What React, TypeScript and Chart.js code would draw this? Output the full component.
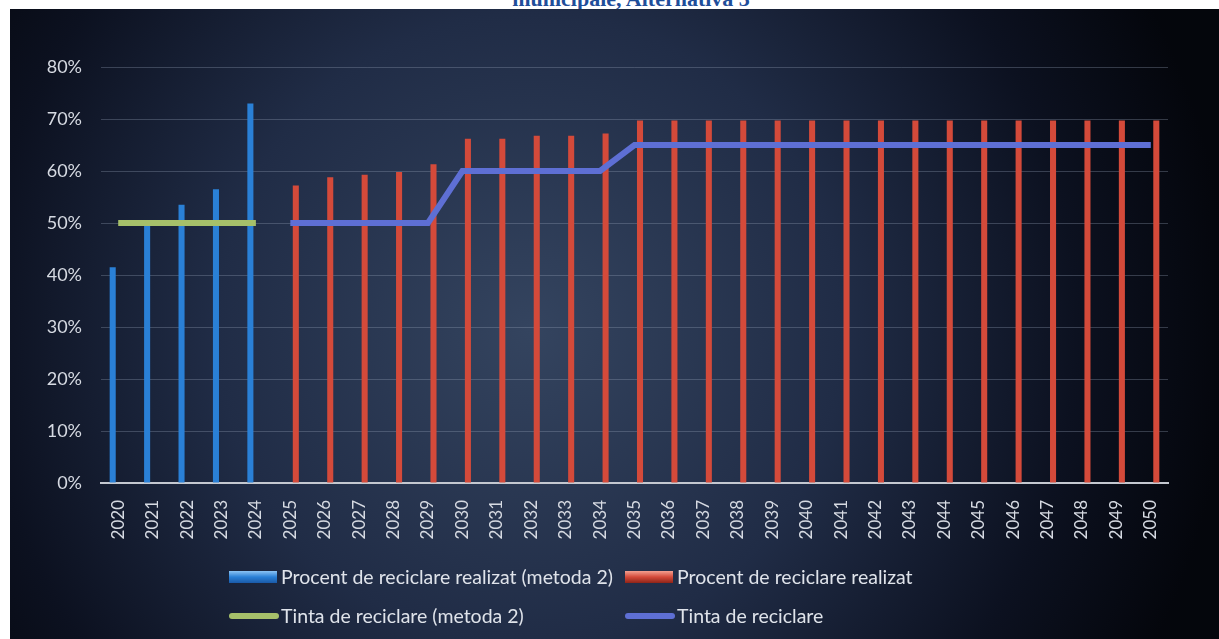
import React, { useEffect, useRef } from 'react';
import { Chart, registerables } from 'chart.js';

Chart.register(...registerables);

const years = [
  '2020', '2021', '2022', '2023', '2024', '2025', '2026', '2027', '2028', '2029',
  '2030', '2031', '2032', '2033', '2034', '2035', '2036', '2037', '2038', '2039',
  '2040', '2041', '2042', '2043', '2044', '2045', '2046', '2047', '2048', '2049', '2050',
];

const realizedMethod2 = [
  41.5, 50.5, 53.5, 56.5, 73, null, null, null, null, null,
  null, null, null, null, null, null, null, null, null, null,
  null, null, null, null, null, null, null, null, null, null, null,
];

const realized = [
  null, null, null, null, null, 57.2, 58.8, 59.3, 59.8, 61.3,
  66.2, 66.2, 66.8, 66.8, 67.2, 69.7, 69.7, 69.7, 69.7, 69.7,
  69.7, 69.7, 69.7, 69.7, 69.7, 69.7, 69.7, 69.7, 69.7, 69.7, 69.7,
];

const targetMethod2 = [
  50, 50, 50, 50, 50, null, null, null, null, null,
  null, null, null, null, null, null, null, null, null, null,
  null, null, null, null, null, null, null, null, null, null, null,
];

const target = [
  null, null, null, null, null, 50, 50, 50, 50, 50,
  60, 60, 60, 60, 60, 65, 65, 65, 65, 65,
  65, 65, 65, 65, 65, 65, 65, 65, 65, 65, 65,
];

const seriesLabels = [
  'Procent de reciclare realizat (metoda 2)',
  'Procent de reciclare realizat',
  'Tinta de reciclare (metoda 2)',
  'Tinta de reciclare',
];

const yMax = 80;
const yStep = 10;

const FONT = 'Lato, "Open Sans", sans-serif';

const backgroundPlugin = {
  id: 'panelBackground',
  beforeDraw(chart: any) {
    const { ctx, width, height } = chart;
    ctx.save();
    const g = ctx.createRadialGradient(520, 320, 0, 520, 320, 700);
    g.addColorStop(0, '#34445f');
    g.addColorStop(0.45, '#202c46');
    g.addColorStop(0.78, '#0c1120');
    g.addColorStop(1, '#04060c');
    ctx.fillStyle = g;
    ctx.fillRect(0, 0, width, height);
    ctx.restore();
  },
};

const legendLayout = [
  { x: 219, y: 568, kind: 'bar' },
  { x: 615, y: 568, kind: 'bar' },
  { x: 219, y: 607, kind: 'line' },
  { x: 615, y: 607, kind: 'line' },
];

const legendPlugin = {
  id: 'excelLegend',
  afterDraw(chart: any) {
    const ctx = chart.ctx;
    ctx.save();
    chart.data.datasets.forEach((ds: any, i: number) => {
      const pos = legendLayout[i];
      const sw = 48;
      if (pos.kind === 'bar') {
        const g = ctx.createLinearGradient(0, pos.y - 6, 0, pos.y + 6);
        g.addColorStop(0, ds.swatchLight);
        g.addColorStop(0.5, ds.backgroundColor);
        g.addColorStop(1, ds.borderColor);
        ctx.fillStyle = g;
        ctx.fillRect(pos.x, pos.y - 6, sw, 12);
      } else {
        ctx.strokeStyle = ds.borderColor;
        ctx.lineWidth = 6;
        ctx.lineCap = 'round';
        ctx.beginPath();
        ctx.moveTo(pos.x + 3, pos.y);
        ctx.lineTo(pos.x + sw - 1, pos.y);
        ctx.stroke();
      }
      ctx.fillStyle = '#dfe3ea';
      ctx.font = `19.5px ${FONT}`;
      ctx.textBaseline = 'middle';
      ctx.textAlign = 'left';
      ctx.fillText(ds.label, pos.x + 52, pos.y + 1);
    });
    ctx.restore();
  },
};

function ChartCanvas() {
  const ref = useRef<HTMLCanvasElement | null>(null);
  useEffect(() => {
    if (!ref.current) return;
    const chart = new Chart(ref.current, {
      type: 'bar',
      data: {
        labels: years,
        datasets: [
          {
            type: 'bar',
            label: seriesLabels[0],
            data: realizedMethod2,
            backgroundColor: '#2a80d6',
            borderColor: '#1a5aa8',
            swatchLight: '#8cc4f4',
            borderWidth: 0,
            categoryPercentage: 0.64,
            barPercentage: 0.55,
            order: 2,
          } as any,
          {
            type: 'bar',
            label: seriesLabels[1],
            data: realized,
            backgroundColor: '#d44a3a',
            borderColor: '#8e2418',
            swatchLight: '#f4a090',
            borderWidth: 0,
            categoryPercentage: 0.64,
            barPercentage: 0.55,
            order: 2,
          } as any,
          {
            type: 'line',
            label: seriesLabels[2],
            data: targetMethod2,
            borderColor: '#a6c06a',
            backgroundColor: '#a6c06a',
            borderWidth: 6,
            pointRadius: 0,
            spanGaps: false,
            order: 0,
          } as any,
          {
            type: 'line',
            label: seriesLabels[3],
            data: target,
            borderColor: '#5e6fd4',
            backgroundColor: '#5e6fd4',
            borderWidth: 6,
            pointRadius: 0,
            spanGaps: false,
            order: 1,
          } as any,
        ],
      },
      options: {
        animation: false,
        responsive: true,
        maintainAspectRatio: false,
        layout: { padding: { top: 58, right: 51, left: 0, bottom: 86 } },
        plugins: {
          legend: { display: false },
          tooltip: { enabled: false },
          title: { display: false },
        },
        scales: {
          x: {
            grid: { display: false, drawTicks: false },
            border: { display: true, color: '#c4c8d0', width: 2 },
            ticks: {
              color: '#d6dae2',
              font: { family: FONT, size: 17 },
              minRotation: 90,
              maxRotation: 90,
              autoSkip: false,
              padding: 17,
            },
            afterFit: (scale: any) => {
              scale.height = 70;
            },
          },
          y: {
            min: 0,
            max: yMax,
            grid: { color: 'rgba(150,162,185,0.32)', lineWidth: 1, drawTicks: false },
            border: { display: false },
            ticks: {
              stepSize: yStep,
              color: '#d6dae2',
              font: { family: FONT, size: 18 },
              padding: 19,
              callback: (v: any) => `${v}%`,
            },
            afterFit: (scale: any) => {
              scale.width = 91;
            },
          },
        },
      },
      plugins: [backgroundPlugin, legendPlugin],
    });
    return () => chart.destroy();
  }, []);
  return <canvas ref={ref} />;
}

export default function App() {
  return (
    <div
      style={{
        position: 'absolute',
        left: 0,
        top: 0,
        width: 1219,
        height: 639,
        overflow: 'hidden',
        background: '#ffffff',
      }}
    >
      <div
        style={{
          position: 'absolute',
          left: 631,
          top: -12,
          transform: 'translateX(-50%)',
          whiteSpace: 'nowrap',
          font: 'bold 22px "Liberation Serif", serif',
          lineHeight: '22px',
          color: '#1f4e9a',
        }}
      >
        municipale, Alternativa 3
      </div>
      <div style={{ position: 'absolute', left: 10, top: 9, width: 1209, height: 630 }}>
        <ChartCanvas />
      </div>
    </div>
  );
}
